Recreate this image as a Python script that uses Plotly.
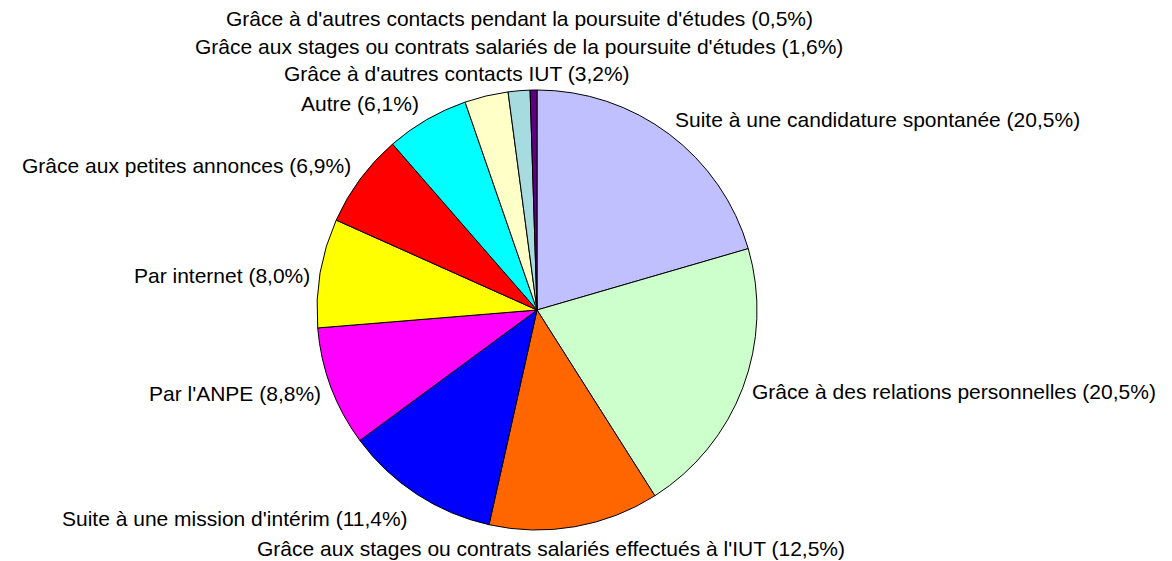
import plotly.graph_objects as go

W, H = 1172, 561

categories = [
    "Suite à une candidature spontanée",
    "Grâce à des relations personnelles",
    "Grâce aux stages ou contrats salariés effectués à l'IUT",
    "Suite à une mission d'intérim",
    "Par l'ANPE",
    "Par internet",
    "Grâce aux petites annonces",
    "Autre",
    "Grâce à d'autres contacts IUT",
    "Grâce aux stages ou contrats salariés de la poursuite d'études",
    "Grâce à d'autres contacts pendant la poursuite d'études",
]
values = [20.5, 20.5, 12.5, 11.4, 8.8, 8.0, 6.9, 6.1, 3.2, 1.6, 0.5]

colors = ["#C0C0FF", "#CCFFCC", "#FF6600", "#0000FF", "#FF00FF", "#FFFF00",
          "#FF0000", "#00FFFF", "#FFFFC8", "#A6DCE0", "#5F0080"]

# label anchor positions in screen pixels: (x, y, xanchor)
label_pos = [
    (673, 119, "left"),
    (750, 391, "left"),
    (551, 548, "center"),
    (410, 518, "right"),
    (323, 393, "right"),
    (312, 275, "right"),
    (353, 165, "right"),
    (421, 103, "right"),
    (457, 74, "center"),
    (519, 46, "center"),
    (519, 18, "center"),
]

cx, cy, r = 537, 310, 220

fig = go.Figure(go.Pie(
    labels=categories,
    values=values,
    sort=False,
    direction="clockwise",
    rotation=0,
    marker=dict(colors=colors, line=dict(color="black", width=1)),
    textinfo="none",
    hoverinfo="label+percent",
    domain=dict(x=[(cx - r) / W, (cx + r) / W], y=[1 - (cy + r) / H, 1 - (cy - r) / H]),
    showlegend=False,
))

for cat, v, (px_, py_, anchor) in zip(categories, values, label_pos):
    num = f"{v:.1f}".replace(".", ",")
    fig.add_annotation(
        x=px_ / W, y=1 - py_ / H, xref="paper", yref="paper",
        text=f"{cat} ({num}%)", showarrow=False, xanchor=anchor, yanchor="middle",
        font=dict(family="Liberation Sans, Arial", size=21, color="black"),
    )

fig.update_layout(
    width=W, height=H,
    margin=dict(l=0, r=0, t=0, b=0),
    paper_bgcolor="white", plot_bgcolor="white",
)

# drop the browser's default body margin so the figure fills the window
fig.write_html("out.html", config={"displayModeBar": False},
               post_script="document.body.style.margin='0';document.body.style.overflow='hidden';")
